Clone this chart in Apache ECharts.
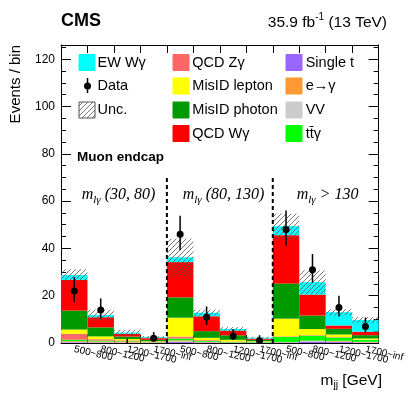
<!DOCTYPE html>
<html>
<head>
<meta charset="utf-8">
<script src="https://cdn.jsdelivr.net/npm/echarts@6/dist/echarts.min.js"></script>
<style>
html, body { margin: 0; padding: 0; background: #fff; }
#chart { width: 407px; height: 395px; }
</style>
</head>
<body>
<div id="chart"></div>
<script>
// bins: 3 m_lg regions x 4 mjj bins
var mjjLabels = ['500~800', '800~1200', '1200~1700', '1700~inf',
                 '500~800', '800~1200', '1200~1700', '1700~inf',
                 '500~800', '800~1200', '1200~1700', '1700~inf'];

// stacked backgrounds (bottom -> top)
var singleT     = [0.3, 0.2, 0.1, 0.1, 0.4, 0.2, 0.1, 0.1, 0.2, 0.6, 0.4, 0.2];
var vv          = [0.2, 0.1, 0.1, 0.05, 0.3, 0.1, 0.05, 0.05, 0.1, 0.2, 0.2, 0.1];
var eToG        = [0.3, 0.3, 0.2, 0.1, 0.4, 0.2, 0.1, 0.1, 0.1, 0.2, 0.3, 0.2];
var ttg         = [0.6, 0.4, 0.3, 0.1, 0.8, 0.4, 0.2, 0.2, 2.2, 2.1, 1.4, 0.8];
var qcdZg       = [2.5, 0.6, 0.4, 0.2, 0.8, 0.3, 0.2, 0.1, 0.2, 0.2, 0.2, 0.1];
var misidLepton = [1.8, 1.2, 0.6, 0.2, 8.0, 1.0, 0.7, 0.2, 7.5, 2.6, 1.1, 0.5];
var misidPhoton = [8.0, 3.8, 1.0, 0.6, 8.6, 2.8, 1.9, 0.6, 14.9, 5.7, 2.4, 1.4];
var qcdWg       = [13.0, 4.3, 1.2, 0.7, 14.9, 6.3, 2.0, 0.5, 20.4, 8.9, 1.4, 1.5];
var ewWg        = [2.0, 0.9, 0.5, 0.4, 2.0, 1.5, 0.7, 0.4, 3.8, 5.2, 5.6, 4.9];

// uncertainty band half width
var uncBand = [2.5, 2.3, 1.2, 0.5, 8.0, 1.3, 0.8, 0.4, 5.3, 5.0, 1.3, 1.3];

// data
var dataCounts  = [22, 14, 0, 2, 46, 11, 3, 1, 48, 31, 15, 7];
var dataErrLow  = [4.66, 3.70, 0, 1.29, 6.76, 3.30, 1.63, 0.83, 6.90, 5.53, 3.82, 2.58];
var dataErrHigh = [5.76, 4.84, 1.84, 2.64, 7.83, 4.44, 2.92, 2.30, 8.00, 6.63, 4.96, 3.77];

var groupEdges = [4, 8];
var dividerTop = 71;
var yTicks = { min: 0, max: 126, interval: 20 };

var stackDefs = [
    { name: 'Single t', values: singleT, color: '#9966ff' },
    { name: 'VV', values: vv, color: '#cccccc' },
    { name: 'e\u2192\u03b3', values: eToG, color: '#ff9933' },
    { name: 'tt\u0304\u03b3', values: ttg, color: '#00ff00' },
    { name: 'QCD Z\u03b3', values: qcdZg, color: '#ff6666' },
    { name: 'MisID lepton', values: misidLepton, color: '#ffff00' },
    { name: 'MisID photon', values: misidPhoton, color: '#009900' },
    { name: 'QCD W\u03b3', values: qcdWg, color: '#ff0000' },
    { name: 'EW W\u03b3', values: ewWg, color: '#00ffff' }
];

// hatch pattern ///
var hatch = document.createElement('canvas');
hatch.width = 5; hatch.height = 5;
(function () {
    var c = hatch.getContext('2d');
    c.strokeStyle = '#555';
    c.lineWidth = 0.8;
    c.beginPath();
    c.moveTo(0, 5); c.lineTo(5, 0);
    c.moveTo(-1, 1); c.lineTo(1, -1);
    c.moveTo(4, 6); c.lineTo(6, 4);
    c.stroke();
})();

var series = [];
var base = mjjLabels.map(function () { return 0; });
stackDefs.forEach(function (s) {
    var rows = s.values.map(function (v, i) {
        var r = [i, base[i], base[i] + v];
        base[i] += v;
        return r;
    });
    series.push({
        name: s.name,
        type: 'custom',
        xAxisIndex: 0,
        yAxisIndex: 0,
        clip: true,
        silent: true,
        data: rows,
        encode: { x: 0, y: [1, 2] },
        renderItem: function (params, api) {
            var p0 = api.coord([api.value(0), api.value(1)]);
            var p1 = api.coord([api.value(0) + 1, api.value(2)]);
            return {
                type: 'rect',
                shape: { x: p0[0], y: p1[1], width: p1[0] - p0[0], height: p0[1] - p1[1] },
                style: { fill: s.color }
            };
        }
    });
});
var totals = base.slice();

// uncertainty band
series.push({
    type: 'custom',
    xAxisIndex: 0,
    yAxisIndex: 0,
    clip: true,
    silent: true,
    z: 3,
    data: totals.map(function (t, i) { return [i, t - uncBand[i], t + uncBand[i]]; }),
    encode: { x: 0, y: [1, 2] },
    renderItem: function (params, api) {
        var p0 = api.coord([api.value(0), api.value(1)]);
        var p1 = api.coord([api.value(0) + 1, api.value(2)]);
        return {
            type: 'rect',
            shape: { x: p0[0], y: p1[1], width: p1[0] - p0[0], height: p0[1] - p1[1] },
            style: { fill: { image: hatch, repeat: 'repeat' } }
        };
    }
});

// region dividers
series.push({
    type: 'custom',
    xAxisIndex: 0,
    yAxisIndex: 0,
    silent: true,
    z: 4,
    data: groupEdges.map(function (e) { return [e, dividerTop]; }),
    renderItem: function (params, api) {
        var a = api.coord([api.value(0), 0]);
        var b = api.coord([api.value(0), api.value(1)]);
        return {
            type: 'line',
            shape: { x1: a[0], y1: a[1], x2: b[0], y2: b[1] },
            style: { stroke: '#000', lineWidth: 2, lineDash: [4, 3] }
        };
    }
});

// data points
series.push({
    type: 'custom',
    xAxisIndex: 0,
    yAxisIndex: 0,
    clip: true,
    silent: true,
    z: 5,
    data: dataCounts.map(function (d, i) { return [i + 0.5, d, d - dataErrLow[i], d + dataErrHigh[i]]; }),
    encode: { x: 0, y: [1, 2, 3] },
    renderItem: function (params, api) {
        var c = api.coord([api.value(0), api.value(1)]);
        var lo = api.coord([api.value(0), api.value(2)]);
        var hi = api.coord([api.value(0), api.value(3)]);
        var kids = [{
            type: 'line',
            shape: { x1: lo[0], y1: lo[1], x2: hi[0], y2: hi[1] },
            style: { stroke: '#000', lineWidth: 1.5 }
        }];
        if (api.value(1) > 0) {
            kids.push({ type: 'circle', shape: { cx: c[0], cy: c[1], r: 3.5 }, style: { fill: '#000' } });
        }
        return { type: 'group', children: kids };
    }
});

// text helpers
var mctx = document.createElement('canvas').getContext('2d');
function fontStr(p) {
    return (p.style || 'normal') + ' ' + (p.weight || 'normal') + ' ' + p.size + 'px ' + (p.family || '"Liberation Sans", Arial, sans-serif');
}
function textRun(x, parts, align) {
    var widths = parts.map(function (p) { mctx.font = fontStr(p); return mctx.measureText(p.text).width; });
    var total = widths.reduce(function (a, b) { return a + b; }, 0);
    var cx = align === 'right' ? x - total : x;
    return parts.map(function (p, k) {
        var el = {
            type: 'text',
            x: cx,
            y: p.y,
            style: {
                text: p.text,
                fontSize: p.size,
                fontStyle: p.style || 'normal',
                fontWeight: p.weight || 'normal',
                fontFamily: p.family || '"Liberation Sans", Arial, sans-serif',
                fill: '#000',
                textAlign: 'left',
                textVerticalAlign: 'middle'
            }
        };
        cx += widths[k];
        return el;
    });
}

var serif = '"Liberation Serif", "Times New Roman", serif';
var graphics = [];
graphics = graphics.concat(textRun(61, [{ text: 'CMS', size: 18, weight: 'bold', y: 21.5 }]));
graphics = graphics.concat(textRun(387, [
    { text: '35.9 fb', size: 15.5, y: 22.5 },
    { text: '-1', size: 10, y: 17 },
    { text: ' (13 TeV)', size: 15.5, y: 22.5 }
], 'right'));
graphics.push({
    type: 'text', x: 16, y: 45, rotation: Math.PI / 2,
    style: { text: 'Events / bin', fontSize: 15, fontFamily: '"Liberation Sans", Arial, sans-serif', fill: '#000', textAlign: 'right', textVerticalAlign: 'middle' }
});
graphics = graphics.concat(textRun(382, [
    { text: 'm', size: 15.5, y: 380.5 },
    { text: 'jj', size: 10.5, y: 385 },
    { text: ' [GeV]', size: 15.5, y: 380.5 }
], 'right'));
graphics = graphics.concat(textRun(77, [{ text: 'Muon endcap', size: 13.5, weight: 'bold', y: 157.3 }]));

var regionTitles = [
    { x: 81.7, tail: ' (30, 80)' },
    { x: 182.7, tail: ' (80, 130)' },
    { x: 296.7, tail: ' > 130' }
];
regionTitles.forEach(function (r) {
    graphics = graphics.concat(textRun(r.x, [
        { text: 'm', size: 16, style: 'italic', family: serif, y: 194.5 },
        { text: 'l\u03b3', size: 11, style: 'italic', family: serif, y: 199.8 },
        { text: r.tail, size: 16, style: 'italic', family: serif, y: 194.5 }
    ]));
});

// legend
var rowsY = [62.5, 86, 110, 133.5];
function legendBox(x, y, fill, stroke) {
    return { type: 'rect', shape: { x: x, y: y - 8, width: 16, height: 16 }, style: { fill: fill, stroke: stroke || fill, lineWidth: 1 } };
}
function legendText(x, y, t) {
    return textRun(x, [{ text: t, size: 14.5, y: y }])[0];
}
graphics.push(legendBox(79, rowsY[0], '#00ffff'));
graphics.push(legendText(97.5, rowsY[0], 'EW W\u03b3'));
graphics.push({ type: 'line', shape: { x1: 87.5, y1: rowsY[1] - 8, x2: 87.5, y2: rowsY[1] + 7 }, style: { stroke: '#000', lineWidth: 1.5 } });
graphics.push({ type: 'circle', shape: { cx: 87.5, cy: rowsY[1], r: 3.5 }, style: { fill: '#000' } });
graphics.push(legendText(97.5, rowsY[1], 'Data'));
graphics.push({ type: 'rect', shape: { x: 79, y: rowsY[2] - 8, width: 16, height: 16 }, style: { fill: { image: hatch, repeat: 'repeat' }, stroke: '#555', lineWidth: 1 } });
graphics.push(legendText(97.5, rowsY[2], 'Unc.'));

var col2 = [stackDefs[4], stackDefs[5], stackDefs[6], stackDefs[7]];
col2.forEach(function (s, k) {
    graphics.push(legendBox(173, rowsY[k], s.color));
    graphics.push(legendText(192.3, rowsY[k], s.name));
});
var col3 = [stackDefs[0], stackDefs[2], stackDefs[1], stackDefs[3]];
col3.forEach(function (s, k) {
    graphics.push(legendBox(286, rowsY[k], s.color));
    graphics.push(legendText(305.7, rowsY[k], s.name));
});

var axisBlack = { lineStyle: { color: '#000', width: 1 } };
var option = {
    animation: false,
    backgroundColor: '#fff',
    grid: { left: 61, right: 25, top: 45, bottom: 52 },
    xAxis: [
        { type: 'value', min: 0, max: 12, show: false, position: 'bottom' },
        {
            type: 'category', position: 'bottom', data: mjjLabels, boundaryGap: true,
            axisLine: axisBlack,
            axisTick: { show: true, inside: true, length: 8, interval: 0, lineStyle: { color: '#000' } },
            axisLabel: { interval: 0, rotate: -13, margin: 6, fontSize: 10, color: '#000', fontFamily: '"Liberation Sans", Arial, sans-serif' },
            splitLine: { show: false }
        },
        {
            type: 'category', position: 'top', data: mjjLabels, boundaryGap: true,
            axisLine: axisBlack,
            axisTick: { show: true, inside: true, length: 8, interval: 0, lineStyle: { color: '#000' } },
            axisLabel: { show: false },
            splitLine: { show: false }
        }
    ],
    yAxis: [
        {
            type: 'value', position: 'left', min: yTicks.min, max: yTicks.max, interval: yTicks.interval,
            axisLine: { show: true, lineStyle: { color: '#000', width: 1 } },
            axisTick: { show: true, inside: true, length: 10, lineStyle: { color: '#000' } },
            minorTick: { show: true, splitNumber: 4, length: 5, lineStyle: { color: '#000' } },
            axisLabel: { fontSize: 12, margin: 6, color: '#000', showMaxLabel: false, fontFamily: '"Liberation Sans", Arial, sans-serif' },
            splitLine: { show: false }
        },
        {
            type: 'value', position: 'right', min: yTicks.min, max: yTicks.max, interval: yTicks.interval,
            axisLine: { show: true, lineStyle: { color: '#000', width: 1 } },
            axisTick: { show: true, inside: true, length: 10, lineStyle: { color: '#000' } },
            minorTick: { show: true, splitNumber: 4, length: 5, lineStyle: { color: '#000' } },
            axisLabel: { show: false },
            splitLine: { show: false }
        }
    ],
    series: series,
    graphic: graphics
};

var chart = echarts.init(document.getElementById('chart'));
chart.setOption(option);
</script>
</body>
</html>
